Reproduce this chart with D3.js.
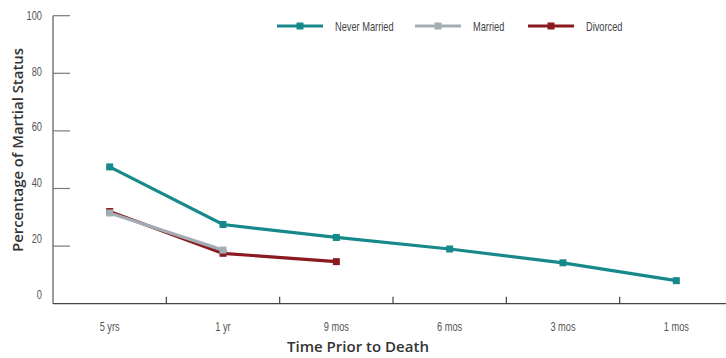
<!DOCTYPE html>
<html><head><meta charset="utf-8">
<script src="https://cdn.jsdelivr.net/npm/d3@7"></script>
<style>
body{margin:0;background:#fff;}
.cond{font-family:"Liberation Sans",Arial,sans-serif;}
</style></head><body>
<svg id="c" width="726" height="358"></svg>
<script>
const categories = ["5 yrs","1 yr","9 mos","6 mos","3 mos","1 mos"];
const neverMarried = [47.5, 27.5, 23, 19, 14.2, 8];
const married = [31.5, 18.6, null, null, null, null];
const divorced = [32, 17.5, 14.6, null, null, null];
const yTicks = [0,20,40,60,80,100];
const seriesNames = ["Never Married","Married","Divorced"];
const seriesColors = ["#17898b","#a3adb4","#8a1a1f"];

const svg = d3.select("#c");
const x = d3.scaleBand().domain(categories).range([53, 733]);
const y = d3.scaleLinear().domain([0,100]).range([303.7, 15.7]);
const yLab = d3.scaleLinear().domain([0,100]).range([294, 15]);
const SX = 0.685;

function condText(sel, px, py, anchor, size, fill, txt){
  sel.append("g").attr("transform",`translate(${px},${py}) scale(${SX},1)`)
    .append("text").attr("class","cond").attr("dy","0.35em").attr("text-anchor",anchor)
    .attr("font-size",size).attr("fill",fill).text(txt);
}

// y axis
svg.append("line").attr("x1",53).attr("x2",53).attr("y1",y(100)).attr("y2",y(0))
  .attr("stroke","#7a7a7a").attr("stroke-width",1.5);
svg.selectAll(".yt").data(yTicks.filter(d=>d>0)).enter().append("line")
  .attr("x1",53).attr("x2",70).attr("y1",d=>y(d)).attr("y2",d=>y(d))
  .attr("stroke","#7a7a7a").attr("stroke-width",1.2);
yTicks.forEach(d=>condText(svg, 42, yLab(d), "end", 13.5, "#555", d));

// x axis
svg.append("line").attr("x1",53).attr("x2",726).attr("y1",y(0)).attr("y2",y(0))
  .attr("stroke","#444").attr("stroke-width",1.3);
svg.selectAll(".xt").data(categories.slice(1)).enter().append("line")
  .attr("x1",d=>x(d)).attr("x2",d=>x(d)).attr("y1",y(0)).attr("y2",y(0)-7)
  .attr("stroke","#444").attr("stroke-width",1.2);
categories.forEach(c=>condText(svg, x(c)+x.bandwidth()/2, 326, "middle", 13.5, "#555", c));

svg.append("text").attr("x",358).attr("y",351.5).attr("text-anchor","middle")
  .attr("font-family","Open Sans, sans-serif").attr("font-weight",600).attr("font-size",14)
  .attr("textLength",142).attr("lengthAdjust","spacingAndGlyphs")
  .attr("fill","#333").text("Time Prior to Death");
svg.append("text").attr("transform","translate(23,150) rotate(-90)").attr("text-anchor","middle")
  .attr("font-family","Open Sans, sans-serif").attr("font-weight",600).attr("font-size",14)
  .attr("textLength",204).attr("lengthAdjust","spacingAndGlyphs")
  .attr("fill","#333").text("Percentage of Martial Status");

// series (draw Never Married, Divorced, Married order)
const data = [neverMarried, married, divorced];
const order = [0,2,1];
const line = d3.line().defined(d=>d.v!=null).x(d=>x(d.c)+x.bandwidth()/2).y(d=>y(d.v));
order.forEach(i=>{
  const pts = categories.map((c,j)=>({c, v:data[i][j]}));
  const g = svg.append("g");
  g.append("path").datum(pts).attr("d",line).attr("fill","none")
    .attr("stroke",seriesColors[i]).attr("stroke-width",3.2);
  g.selectAll("rect").data(pts.filter(d=>d.v!=null)).enter().append("rect")
    .attr("x",d=>x(d.c)+x.bandwidth()/2-3.5).attr("y",d=>y(d.v)-3.5)
    .attr("width",7).attr("height",7).attr("fill",seriesColors[i]);
});

// legend
const legX = [277, 415, 528];
seriesNames.forEach((n,i)=>{
  const g = svg.append("g").attr("transform",`translate(${legX[i]},26)`);
  g.append("line").attr("x1",0).attr("x2",46).attr("stroke",seriesColors[i]).attr("stroke-width",3);
  g.append("rect").attr("x",19.5).attr("y",-3.5).attr("width",7).attr("height",7).attr("fill",seriesColors[i]);
  condText(g, 58, 0, "start", 13.5, "#444", n);
});
</script></body></html>
